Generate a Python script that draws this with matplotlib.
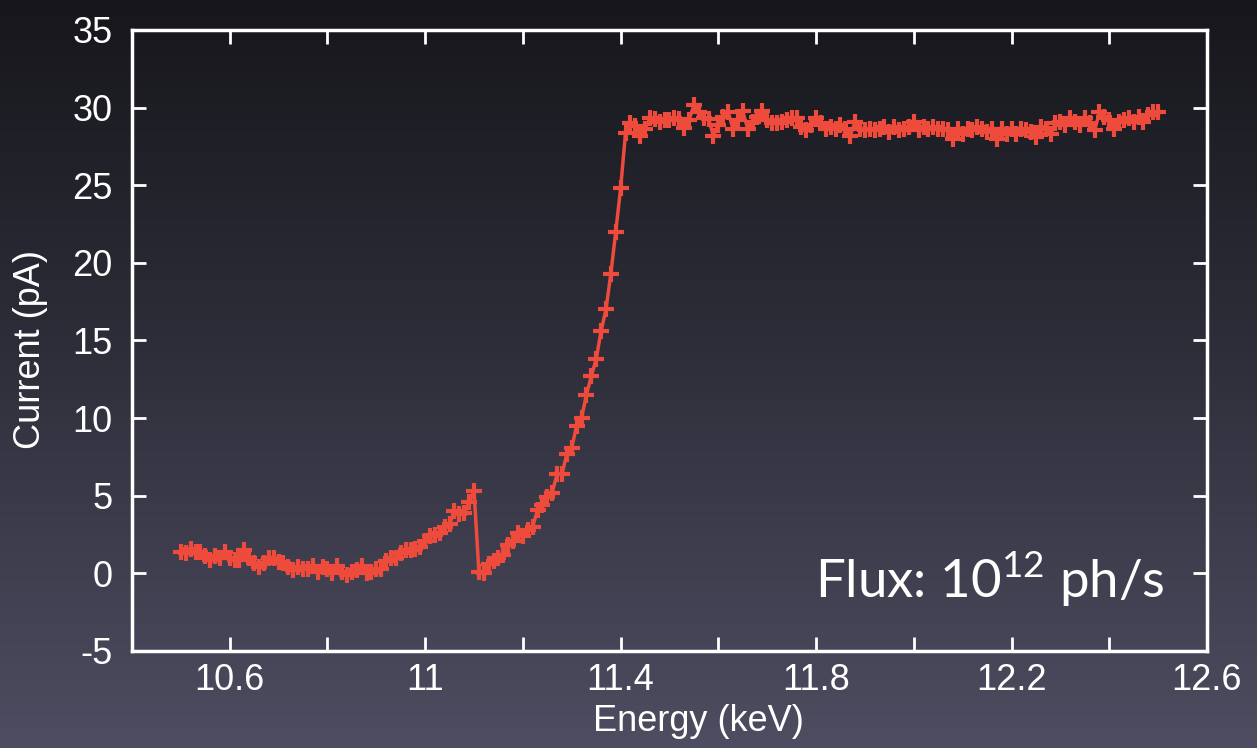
import numpy as np
import matplotlib
matplotlib.use("Agg")
import matplotlib.pyplot as plt
from matplotlib.colors import LinearSegmentedColormap
from matplotlib.ticker import FixedLocator

plt.rcParams['font.family'] = ['Liberation Sans', 'DejaVu Sans']
plt.rcParams['axes.unicode_minus'] = False

# current (pA), one point every 10 eV starting at 10.5 keV
pre_edge = [1.35, 1.3, 1.6, 1.35, 1.35, 1.15, 0.85, 1.15, 1.0, 1.35, 1.0, 0.85, 0.85, 1.5, 1.0,
            0.65, 0.4, 0.65, 1.0, 1.0, 0.7, 0.65, 0.4, 0.2, 0.4, 0.3, 0.3, 0.5, 0.1]
bump = [0.4, 0.3, 0.0, 0.5, 0.1, -0.1, 0.1, 0.2, 0.5, 0.0, 0.1, 0.25, 0.3, 0.8, 1.0, 1.0,
        1.3, 1.5, 1.5, 1.6, 1.7, 2.1, 2.4, 2.5, 2.6, 3.0, 3.2, 4.0, 3.8, 3.9, 4.6, 5.3]
edge = [0.1, 0.0, 0.6, 0.8, 1.0, 1.2, 1.8, 2.1, 2.6, 2.4, 2.8, 3.0, 4.1, 4.4, 4.9, 5.2,
        6.4, 6.4, 7.7, 8.1, 9.5, 10.0, 11.5, 12.7, 13.8, 15.6, 17.0, 19.3, 22.0, 24.8, 28.35, 29.0]
plateau_1 = [28.8, 28.2, 28.65, 29.3, 29.25, 29.1, 29.2, 29.2, 29.3, 29.25, 28.7, 29.2, 30.15,
             29.7, 29.3, 29.25, 28.2, 28.9, 29.4, 29.7, 28.65, 29.2, 29.75, 28.65, 29.1, 29.4,
             29.75, 29.2, 29.0, 29.0, 29.1, 29.2, 29.3, 29.35]
plateau_2 = [28.75, 28.55, 28.9, 29.3, 29.0, 28.65, 28.75, 28.65, 28.9, 28.65, 28.2, 29.1,
             28.65, 28.55, 28.65, 28.55, 28.65, 28.75, 28.45, 28.75, 28.55, 28.65, 28.75, 29.1,
             28.55, 28.75, 28.65, 28.75, 28.65, 28.65, 28.55, 28.0, 28.65, 28.3, 28.65, 28.55, 28.75]
plateau_3 = [28.65, 28.45, 28.65, 28.0, 28.65, 28.3, 28.65, 28.3, 28.65, 28.55, 28.45, 28.1,
             28.75, 28.65, 28.3, 29.0, 29.1, 28.9, 29.3, 29.1, 28.9, 29.3, 29.0, 28.55, 29.7,
             29.4, 29.2, 28.65, 29.1, 29.2, 29.3, 29.1, 29.4, 29.1, 29.5, 29.7, 29.7]

current = np.array(pre_edge + bump + edge + plateau_1 + plateau_2 + plateau_3)
energy = np.round(10.5 + 0.01 * np.arange(len(current)), 2)

x_major = [10.6, 11.0, 11.4, 11.8, 12.2, 12.6]
x_labels = ['10.6', '11', '11.4', '11.8', '12.2', '12.6']
x_minor = [10.8, 11.2, 11.6, 12.0, 12.4]
y_ticks = [-5, 0, 5, 10, 15, 20, 25, 30, 35]

fig = plt.figure(figsize=(12.57, 7.48), dpi=100)

# dark slide background
bg = fig.add_axes([0, 0, 1, 1], zorder=-1)
cmap = LinearSegmentedColormap.from_list('slide', [(0, '#16161b'), (0.45, '#2d2d39'), (1, '#4e4d61')])
bg.imshow(np.linspace(0, 1, 256).reshape(-1, 1), aspect='auto', cmap=cmap, extent=[0, 1, 0, 1])
bg.axis('off')

ax = fig.add_axes([0.1050, 0.1297, 0.8552, 0.8302])
ax.set_facecolor('none')
ax.plot(energy, current, color='#ef4b3c', lw=2.5, marker='+', ms=12, mew=3)

ax.set_xlim(10.4, 12.6)
ax.set_ylim(-5, 35)
ax.xaxis.set_major_locator(FixedLocator(x_major))
ax.xaxis.set_minor_locator(FixedLocator(x_minor))
ax.set_xticklabels(x_labels)
ax.set_yticks(y_ticks)
ax.set_yticklabels([str(v) for v in y_ticks])

for s in ax.spines.values():
    s.set_color('white')
    s.set_linewidth(2.5)
ax.tick_params(which='both', direction='in', top=True, right=True, color='white',
               length=10, width=2, labelcolor='white', labelsize=26)
ax.tick_params(axis='x', which='major', pad=9)
ax.tick_params(axis='y', which='major', pad=14)

ax.set_xlabel('Energy (keV)', color='white', fontsize=26)
ax.set_ylabel('Current (pA)', color='white', fontsize=26)
ax.xaxis.set_label_coords(0.527, -0.085)
ax.yaxis.set_label_coords(-0.078, 0.485)

ax.text(0.961, 0.085, r'Flux: 10$^{\mathregular{12}}$ ph/s', transform=ax.transAxes,
        ha='right', va='baseline', color='white', fontsize=38, family=['Lato', 'DejaVu Sans'])

fig.savefig('out.png', dpi=100)
